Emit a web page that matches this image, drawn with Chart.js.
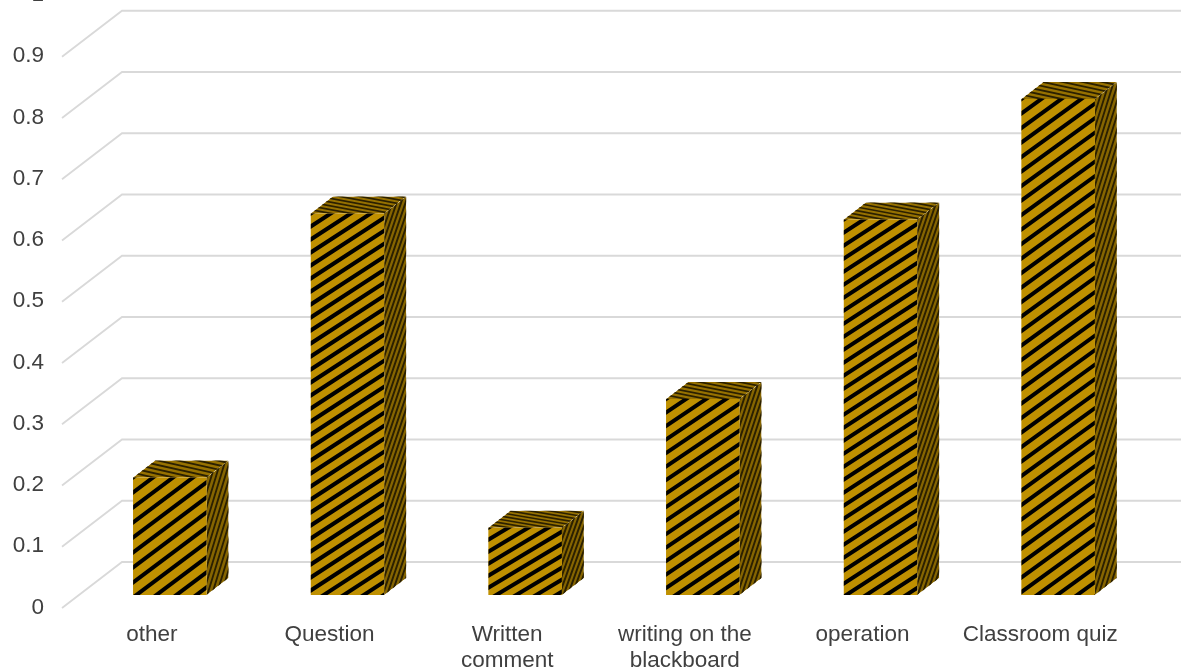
<!DOCTYPE html>
<html>
<head>
<meta charset="utf-8">
<title>Chart</title>
<script src="https://cdn.jsdelivr.net/npm/chart.js@4"></script>
<style>
  html, body { margin: 0; padding: 0; background: #fff; overflow: hidden; }
  body { width: 1181px; height: 670px; position: relative; }
  /* the reference is cropped at the top: the "1" tick sits above the page */
  #chart { position: absolute; left: 0; top: -60px; }
</style>
</head>
<body>
<canvas id="chart" width="1181" height="730"></canvas>
<script>
// Chart data
const categories = ['other', 'Question', ['Written', 'comment'], ['writing on the', 'blackboard'], 'operation', 'Classroom quiz'];
const seriesValues = [0.192, 0.623, 0.11, 0.32, 0.613, 0.81];

const GOLD = '#BF9000';
const GOLD_SIDE = '#866500';
const GOLD_TOP = '#967100';
const STRIPE = '#000000';
const STRIPE_DARK = '#2B2000';
const GRID = '#D9D9D9';
const TEXT = '#404040';

// 3D look
const DEPTH_X = 22, DEPTH_Y = 17;          // bar side / top
const WALL_FRONT = { x: 62, dy: 13 };      // front end of the left wall line
const WALL_BACK = { x: 122, dy: -33 };     // where the wall meets the back

// hatch spacing, the texture is stretched a bit differently on every bar
const HATCH_W = 20;
const hatchHeights = [15, 13, 12, 13.5, 13, 14.5];

// fill a polygon with the background and the diagonal stripes,
// m maps hatch space (x right, y down, origin at a corner) on to the face
function hatchFace(ctx, pts, bg, stripe, lineWidth, m, h) {
    ctx.save();
    ctx.beginPath();
    pts.forEach((p, i) => i ? ctx.lineTo(p[0], p[1]) : ctx.moveTo(p[0], p[1]));
    ctx.closePath();
    ctx.clip();
    ctx.fillStyle = bg;
    ctx.fill();
    ctx.transform(m[0], m[1], m[2], m[3], m[4], m[5]);
    ctx.filter = 'blur(0.6px)';
    ctx.strokeStyle = stripe;
    ctx.lineWidth = lineWidth;
    ctx.beginPath();
    for (let i = -100; i <= 100; i++) {
        ctx.moveTo(i * HATCH_W - 100 * HATCH_W, 100 * h);
        ctx.lineTo(i * HATCH_W + 100 * HATCH_W, -100 * h);
    }
    ctx.stroke();
    ctx.restore();
}

const box3d = {
    id: 'box3d',
    beforeDatasetsDraw(chart) {
        const ctx = chart.ctx;
        const y = chart.scales.y;

        // walls and grid
        ctx.save();
        ctx.strokeStyle = GRID;
        ctx.lineWidth = 1.8;
        y.ticks.forEach(t => {
            const py = y.getPixelForValue(t.value);
            ctx.beginPath();
            ctx.moveTo(WALL_FRONT.x, py + WALL_FRONT.dy);
            ctx.lineTo(WALL_BACK.x, py + WALL_BACK.dy);
            ctx.lineTo(chart.width, py + WALL_BACK.dy);
            ctx.stroke();
        });
        ctx.restore();

        // side and top faces of the bars
        chart.getDatasetMeta(0).data.forEach((bar, i) => {
            const left = bar.x - bar.width / 2;
            const right = bar.x + bar.width / 2;
            const sx = DEPTH_X / bar.width, sy = DEPTH_Y / bar.width;
            hatchFace(ctx, [
                [right, bar.y], [right + DEPTH_X, bar.y - DEPTH_Y],
                [right + DEPTH_X, bar.base - DEPTH_Y], [right, bar.base]
            ], GOLD_SIDE, STRIPE_DARK, 5, [sx, -sy, 0, 1, right, bar.y], hatchHeights[i]);
            hatchFace(ctx, [
                [left, bar.y], [left + DEPTH_X, bar.y - DEPTH_Y],
                [right + DEPTH_X, bar.y - DEPTH_Y], [right, bar.y]
            ], GOLD_TOP, STRIPE_DARK, 5, [1, 0, sx, -sy, left, bar.y], hatchHeights[i]);
        });
    },
    afterDatasetsDraw(chart) {
        // stripes on the front face, on top of the library's bar
        chart.getDatasetMeta(0).data.forEach((bar, i) => {
            const left = bar.x - bar.width / 2;
            const right = bar.x + bar.width / 2;
            hatchFace(chart.ctx, [
                [left, bar.y], [right, bar.y], [right, bar.base], [left, bar.base]
            ], GOLD, STRIPE, 4, [1, 0, 0, 1, left, bar.y], hatchHeights[i]);
        });
    }
};

new Chart(document.getElementById('chart'), {
    type: 'bar',
    data: {
        labels: categories,
        datasets: [{
            data: seriesValues,
            backgroundColor: GOLD,
            borderWidth: 0,
            categoryPercentage: 1,
            barPercentage: 0.413
        }]
    },
    options: {
        responsive: false,
        animation: false,
        layout: { padding: { top: 36, right: 34, left: 0, bottom: 0 } },
        plugins: { legend: { display: false }, tooltip: { enabled: false } },
        scales: {
            x: {
                grid: { display: false },
                border: { display: false },
                ticks: {
                    color: TEXT,
                    font: { family: '"Liberation Sans"', size: 22.5, lineHeight: 1.155 },
                    padding: 19,
                    labelOffset: -18,
                    maxRotation: 0,
                    autoSkip: false
                },
                afterFit(scale) { scale.height = 75; }
            },
            y: {
                min: 0,
                max: 1,
                grid: { display: false },
                border: { display: false },
                ticks: {
                    stepSize: 0.1,
                    color: TEXT,
                    font: { family: '"Liberation Sans"', size: 22.5 },
                    padding: 29,
                    labelOffset: 12.5,
                    callback: v => String(+v.toFixed(1))
                },
                afterFit(scale) { scale.width = 81; }
            }
        }
    },
    plugins: [box3d]
});
</script>
</body>
</html>
